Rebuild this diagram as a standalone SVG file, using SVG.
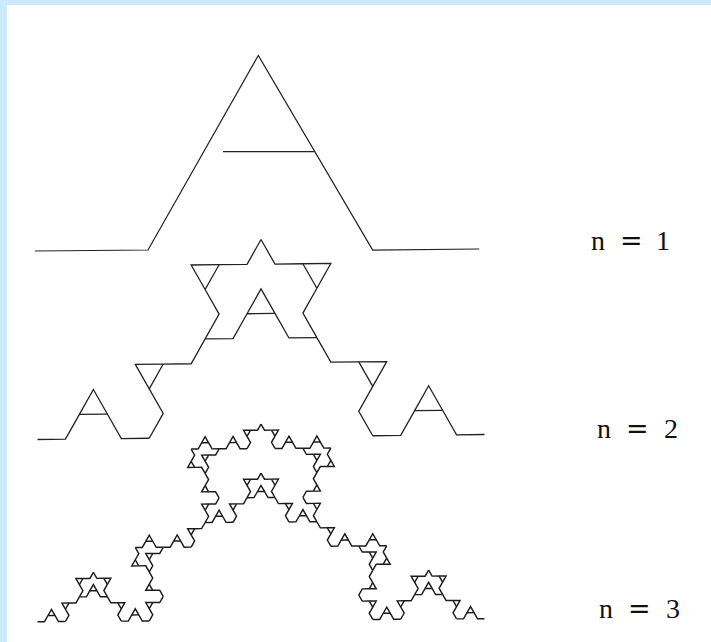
<svg xmlns="http://www.w3.org/2000/svg" width="711" height="642" viewBox="0 0 711 642">
<style>
.seg{fill:none;vector-effect:non-scaling-stroke;stroke-linejoin:miter}
.ln{fill:none;stroke:#222;stroke-width:1.25}
.c2{stroke:#222;stroke-width:1.3}
.c3{stroke:#1c1c1c;stroke-width:1.45}
.lbl{font-family:"Liberation Serif","Times New Roman",serif;font-size:28px;fill:#111}
.eq{font-family:"DejaVu Serif",serif;font-size:27px}
</style>
<defs>
<g id="k1">
<polyline class="seg" points="0,0 0.25,0 0.375,-0.21650635 0.5,-0.4330127 0.625,-0.21650635 0.75,0 1,0"/>
<line class="seg" x1="0.375" y1="-0.21650635" x2="0.625" y2="-0.21650635"/>
</g>
<g id="k2">
<use href="#k1" transform="scale(0.25)"/>
<use href="#k1" transform="translate(0.25,0) rotate(-60) scale(0.25)"/>
<use href="#k1" transform="translate(0.375,-0.21650635) rotate(-60) scale(0.25)"/>
<use href="#k1" transform="translate(0.5,-0.4330127) rotate(60) scale(0.25)"/>
<use href="#k1" transform="translate(0.625,-0.21650635) rotate(60) scale(0.25)"/>
<use href="#k1" transform="translate(0.75,0) scale(0.25)"/>
<use href="#k1" transform="translate(0.375,-0.21650635) scale(0.25)"/>
</g>
<g id="k3">
<use href="#k2" transform="scale(0.25)"/>
<use href="#k2" transform="translate(0.25,0) rotate(-60) scale(0.25)"/>
<use href="#k2" transform="translate(0.375,-0.21650635) rotate(-60) scale(0.25)"/>
<use href="#k2" transform="translate(0.5,-0.4330127) rotate(60) scale(0.25)"/>
<use href="#k2" transform="translate(0.625,-0.21650635) rotate(60) scale(0.25)"/>
<use href="#k2" transform="translate(0.75,0) scale(0.25)"/>
<use href="#k2" transform="translate(0.375,-0.21650635) scale(0.25)"/>
</g>
</defs>
<rect x="0" y="0" width="711" height="642" fill="#cdeafd"/>
<rect x="7" y="5" width="704" height="637" fill="#ffffff"/>
<g id="curve-n1">
<polyline class="ln" points="35,251 148,250 258.3,55.5 372.7,250 479.3,249"/>
<line class="ln" x1="223" y1="151.5" x2="314.5" y2="151.5"/>
</g>
<g id="curve-n2">
<use class="c2" href="#k2" transform="matrix(447,-5,0,456,37.5,439.5)"/>
</g>
<g id="curve-n3">
<use class="c3" href="#k3" transform="matrix(447,-3,0,453,37.5,621.7)"/>
</g>
<g id="labels">
<text class="lbl" y="250"><tspan x="591">n</tspan><tspan class="eq" x="620">=</tspan><tspan x="656">1</tspan></text>
<text class="lbl" y="438"><tspan x="597">n</tspan><tspan class="eq" x="626">=</tspan><tspan x="664">2</tspan></text>
<text class="lbl" y="618"><tspan x="599">n</tspan><tspan class="eq" x="628">=</tspan><tspan x="666">3</tspan></text>
</g>
</svg>
